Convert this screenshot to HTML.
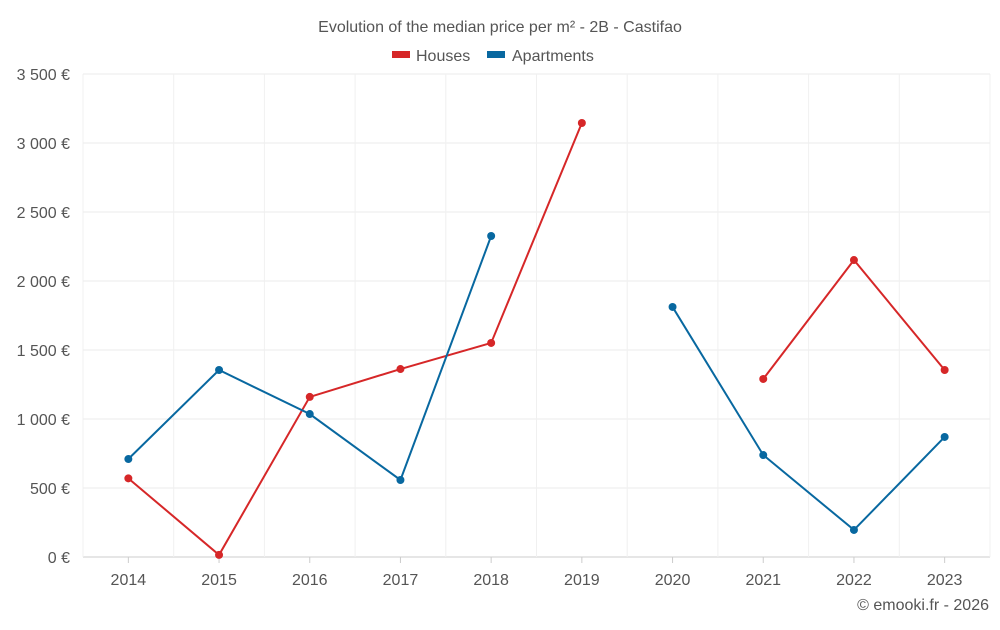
<!DOCTYPE html>
<html><head><meta charset="utf-8"><style>
body{margin:0;background:#fff;font-family:"Liberation Sans",sans-serif;}
</style></head><body>
<svg id="c" width="1000" height="625" xmlns="http://www.w3.org/2000/svg">
<text x="500" y="32" text-anchor="middle" font-size="16" fill="#555">Evolution of the median price per m² - 2B - Castifao</text>
<g>
<g><rect x="392" y="51" width="18" height="7" fill="#d62728"/><text x="416" y="61" font-size="16" fill="#555">Houses</text></g>
<g><rect x="487" y="51" width="18" height="7" fill="#0868a0"/><text x="512" y="61" font-size="16" fill="#555">Apartments</text></g>
</g>
<g id="grid"></g><g id="axes"></g><g id="series"></g>
<text x="989" y="610" text-anchor="end" font-size="16" fill="#555">© emooki.fr - 2026</text>
</svg>
<script>
const categories=["2014","2015","2016","2017","2018","2019","2020","2021","2022","2023"];
const houses=[570,15,1160,1362,1551,3145,null,1290,2152,1355];
const apartments=[710,1355,1036,558,2326,null,1812,739,196,870];
const yTicks=[0,500,1000,1500,2000,2500,3000,3500];
const yTickLabels=["0 €","500 €","1 000 €","1 500 €","2 000 €","2 500 €","3 000 €","3 500 €"];
const NS="http://www.w3.org/2000/svg";
const L=83,R=990,T=74,B=557,yMax=3500;
const bw=(R-L)/categories.length;
const x=i=>L+bw*(i+0.5);
const y=v=>B-(v/yMax)*(B-T);
function mk(tag,attrs,parent){const e=document.createElementNS(NS,tag);for(const k in attrs)e.setAttribute(k,attrs[k]);document.getElementById(parent).appendChild(e);return e;}
yTicks.forEach((t,i)=>{
 const g=mk('line',{x1:L,x2:R,y1:y(t),y2:y(t),stroke:i==0?'#ccc':'#ebebeb','stroke-width':1},'grid');
 
 
 const tx=mk('text',{x:70,y:y(t)+6,'text-anchor':'end','font-size':16,fill:'#555'},'axes');
 tx.textContent=yTickLabels[i];
 
 
});
for(let i=0;i<=categories.length;i++){
 const g=mk('line',{x1:L+bw*i,x2:L+bw*i,y1:T,y2:B,stroke:'#f0f0f0','stroke-width':1},'grid');
 
 
}
categories.forEach((c,i)=>{
 const tk=mk('line',{x1:x(i),x2:x(i),y1:B,y2:B+6,stroke:'#ccc'},'axes');
 
 
 const tx=mk('text',{x:x(i),y:585,'text-anchor':'middle','font-size':16,fill:'#555'},'axes');
 tx.textContent=c;
 
 
});
function drawSeries(vals,color,name){
 let seg=[];
 const flush=()=>{if(seg.length>1){const p=mk('polyline',{points:seg.join(' '),fill:'none',stroke:color,'stroke-width':2},'series');
  
  }seg=[];};
 vals.forEach((v,i)=>{if(v==null){flush();return;}seg.push(x(i)+','+y(v));});
 flush();
 vals.forEach((v,i)=>{if(v==null)return;
  const c=mk('circle',{cx:x(i),cy:y(v),r:4,fill:color},'series');
  
  });
}
drawSeries(houses,'#d62728','houses');
drawSeries(apartments,'#0868a0','apartments');
</script>
</body></html>
